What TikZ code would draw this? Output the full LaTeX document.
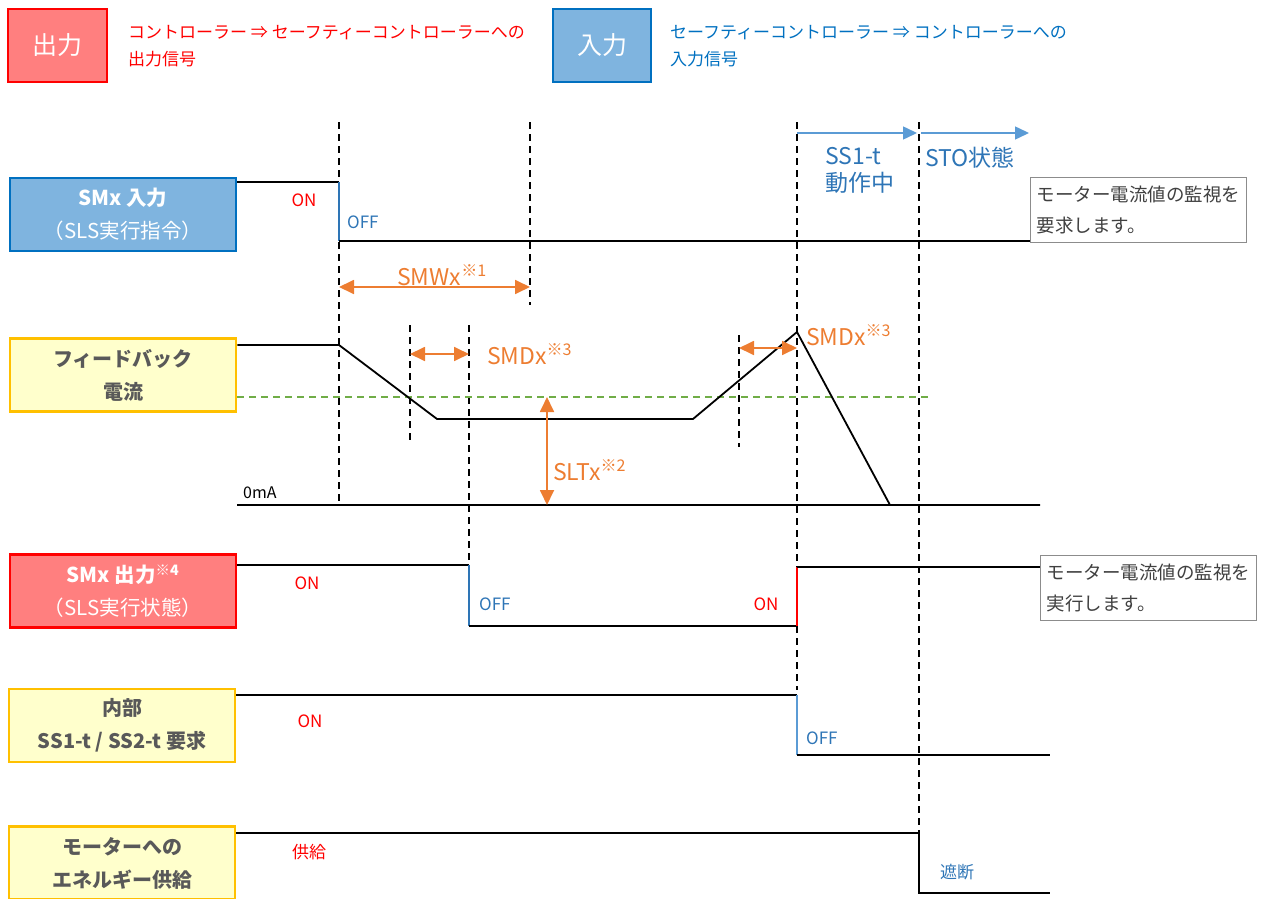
\documentclass[tikz,border=0pt]{standalone}
\usepackage{fontspec}
\setmainfont{Noto Sans CJK JP}
\usetikzlibrary{arrows.meta,positioning}
\definecolor{sigred}{HTML}{FF0000}
\definecolor{outfill}{HTML}{FF7F7F}
\definecolor{infill}{HTML}{7FB4DF}
\definecolor{inedge}{HTML}{0070C0}
\definecolor{lblblue}{HTML}{2E75B6}
\definecolor{arrblue}{HTML}{5B9BD5}
\definecolor{orng}{HTML}{ED7D31}
\definecolor{pale}{HTML}{FFFFCC}
\definecolor{gold}{HTML}{FFC000}
\definecolor{grn}{HTML}{70AD47}
\definecolor{txtgray}{HTML}{595959}
\definecolor{notegray}{HTML}{8C8C8C}
\tikzset{
  rowbox/.style={line width=2.5pt,minimum width=226pt,minimum height=73pt,align=center,inner sep=0pt,
    font=\fontsize{20.5}{33}\selectfont},
  outbox/.style={rowbox,fill=outfill,draw=sigred,text=white},
  inbox/.style={rowbox,fill=infill,draw=inedge,text=white},
  intbox/.style={rowbox,fill=pale,draw=gold,text=txtgray,font=\fontsize{20}{33}\selectfont\bfseries},
  note/.style={draw=notegray,fill=white,line width=1pt,text=black!75,align=left,inner sep=6pt,
    text width=204pt,minimum height=65pt,font=\fontsize{18.5}{31}\selectfont},
  sig/.style={line width=1.8pt},
  tmark/.style={line width=1.5pt,dash pattern=on 7pt off 5pt},
  lvl/.style={inner sep=0pt,font=\fontsize{17}{17}\selectfont},
  dim/.style={orng,line width=1.8pt,{Triangle[length=15pt,width=14pt]}-{Triangle[length=15pt,width=14pt]}},
  dimlbl/.style={orng,inner sep=0pt,font=\fontsize{23}{23}\selectfont},
  phase/.style={arrblue,line width=1.5pt,-{Triangle[length=14pt,width=13pt]}},
}
\newcommand\kome[1]{\textsuperscript{※#1}}
\begin{document}
\begin{tikzpicture}[x=1pt,y=-1pt]
\useasboundingbox (0,0) rectangle (1269,899);
% legend
\node[outbox,minimum width=99pt,font=\fontsize{25}{25}\selectfont] (lgout) at (57.5,45.5) {出力};
\node[anchor=west,align=left,inner sep=0pt,text=sigred,font=\fontsize{17}{27}\selectfont] (lgouttxt) at (128,46.5)
  {コントローラー ⇒ セーフティーコントローラーへの\\出力信号};
\node[inbox,minimum width=98pt,font=\fontsize{25}{25}\selectfont] (lgin) at (602,45.5) {入力};
\node[anchor=west,align=left,inner sep=0pt,text=inedge,font=\fontsize{17}{27}\selectfont] (lgintxt) at (670,46.5)
  {セーフティーコントローラー ⇒ コントローラーへの\\入力信号};
% row labels
\node[inbox] (smin) at (123,214.5) {{\bfseries SMx 入力}\\（SLS実行指令）};
\node[intbox] (fb) at (123,375) {フィードバック\\電流};
\node[outbox] (smout) at (123,591) {{\bfseries SMx 出力\kome4}\\（SLS実行状態）};
\node[intbox] (ss) at (122,725.5) {内部\\SS1-t / SS2-t 要求};
\node[intbox] (pw) at (122,863) {モーターへの\\エネルギー供給};
% time markers
\foreach \x/\ya/\yb in {339/122/503,530/122/305,797/122/690,919/122/833,410/325/443,469/325/565,739/335/447}
  \draw[tmark] (\x,\ya) -- (\x,\yb);
% notes
\node[note,anchor=north west] (req) at (1030,177) {モーター電流値の監視を\\要求します。};
\node[note,anchor=north west] (exe) at (1040,555) {モーター電流値の監視を\\実行します。};
% SMx input
\draw[sig] (smin.east |- 0,182) -- (339,182);
\draw[lblblue,line width=1.8pt] (339,182) -- (339,241);
\draw[sig] (339,241) -- (req.west |- 0,241);
\node[lvl,text=sigred] (on1) at (304,200) {ON};
\node[lvl,text=lblblue,anchor=west] (off1) at (347,222) {OFF};
% phases
\coordinate (p1) at (797,133);
\coordinate (p2) at (917,133);
\coordinate (p3) at (921,133);
\coordinate (p4) at (1029,133);
\draw[phase] (p1) -- (p2);
\draw[phase] (p3) -- (p4);
\node[anchor=west,align=left,inner sep=0pt,text=lblblue,font=\fontsize{23}{27}\selectfont] (ss1) at (825,170) {SS1-t\\動作中};
\node[anchor=west,inner sep=0pt,text=lblblue,font=\fontsize{23}{23}\selectfont] (sto) at (925,158) {STO状態};
% SMWx
\coordinate (w1) at (339,287);
\coordinate (w2) at (530,287);
\draw[dim] (w1) -- (w2);
\node[dimlbl] (smw) at (442,275) {SMWx\kome1};
% feedback current
\draw[line width=1.2pt] (fb.east |- 0,505) -- (1040,505);
\node[anchor=west,inner sep=0pt,font=\fontsize{16}{16}\selectfont] (zero) at (243,493) {0mA};
\draw[grn,line width=1.5pt,dash pattern=on 7pt off 5pt] (fb.east |- 0,397) -- (930,397);
\draw[sig,line join=round] (fb.east |- 0,345) -- (339,345) -- (437,419) -- (693,419) -- (797,332) -- (890,505) -- (1040,505);
\coordinate (d1) at (410,354);
\coordinate (d2) at (469,354);
\draw[dim] (d1) -- (d2);
\node[dimlbl,anchor=west] (smd1) at (487,354) {SMDx\kome3};
\coordinate (d3) at (739,348);
\coordinate (d4) at (797,348);
\draw[dim] (d3) -- (d4);
\node[dimlbl,anchor=west] (smd2) at (806,335) {SMDx\kome3};
\coordinate (l1) at (547,397);
\coordinate (l2) at (547,505);
\draw[dim] (l1) -- (l2);
\node[dimlbl,anchor=west] (slt) at (553,470) {SLTx\kome2};
% SMx output
\draw[sig] (smout.east |- 0,565) -- (469,565);
\draw[lblblue,line width=1.8pt] (469,565) -- (469,626);
\draw[sig] (469,626) -- (797,626);
\draw[sigred,line width=1.8pt] (797,626) -- (797,567);
\draw[sig] (797,567) -- (exe.west |- 0,567);
\node[lvl,text=sigred] (on2) at (307,583) {ON};
\node[lvl,text=lblblue,anchor=west] (off2) at (479,604) {OFF};
\node[lvl,text=sigred] (on3) at (766,604) {ON};
% internal SS1-t / SS2-t
\draw[sig] (ss.east |- 0,695) -- (797,695);
\draw[arrblue,line width=1.8pt] (797,695) -- (797,755);
\draw[sig] (797,755) -- (1050,755);
\node[lvl,text=sigred] (on4) at (310,721) {ON};
\node[lvl,text=lblblue,anchor=west] (off4) at (806,738) {OFF};
% energy supply
\draw[sig] (pw.east |- 0,833) -- (919,833) -- (919,893) -- (1050,893);
\node[lvl,text=sigred] (sup) at (309,852) {供給};
\node[lvl,text=lblblue,anchor=west] (cut) at (940,872) {遮断};
\end{tikzpicture}
\end{document}
